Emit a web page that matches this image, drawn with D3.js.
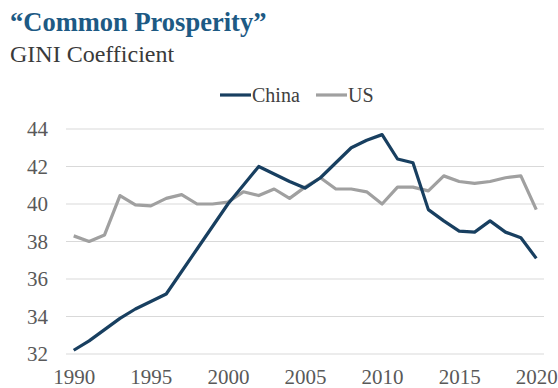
<!DOCTYPE html>
<html>
<head>
<meta charset="utf-8">
<script src="https://cdn.jsdelivr.net/npm/d3@7"></script>
<style>
  body { margin: 0; background: #fff; }
</style>
</head>
<body>
<svg id="plot" width="558" height="388"></svg>
<script>
const years = d3.range(1990, 2021);
const china = [32.2, 32.7, 33.3, 33.9, 34.4, 34.8, 35.2, 36.4, 37.6, 38.8, 40.0, 41.0, 42.0, 41.6, 41.2, 40.85,
               41.4, 42.2, 43.0, 43.4, 43.7, 42.4, 42.2, 39.7, 39.1, 38.55, 38.5, 39.1, 38.5, 38.2, 37.1];
const us = [38.3, 38.0, 38.35, 40.45, 39.95, 39.9, 40.3, 40.5, 40.0, 40.0, 40.1, 40.65, 40.45, 40.8, 40.3, 40.9,
            41.4, 40.8, 40.8, 40.65, 40.0, 40.9, 40.9, 40.7, 41.5, 41.2, 41.1, 41.2, 41.4, 41.5, 39.7];
const yTicks = [32, 34, 36, 38, 40, 42, 44];
const xTicks = [1990, 1995, 2000, 2005, 2010, 2015, 2020];

const serif = "'Liberation Serif', 'DejaVu Serif', serif";
const svg = d3.select("#plot");

const x = d3.scalePoint().domain(years).range([66, 544]).padding(0.5);
const y = d3.scaleLinear().domain([32, 44]).range([354, 129]);

// title
svg.append("text")
    .attr("x", 10).attr("y", 31)
    .style("font-family", serif)
    .attr("font-size", "26.5px").attr("font-weight", "bold")
    .attr("fill", "#1d5a84")
    .text("\u201cCommon Prosperity\u201d");
svg.append("text")
    .attr("x", 10).attr("y", 62)
    .style("font-family", serif)
    .attr("font-size", "24px")
    .attr("fill", "#3a3a3a")
    .text("GINI Coefficient");

// gridlines
svg.append("g").selectAll("line")
    .data(yTicks)
    .enter().append("line")
        .attr("x1", 66).attr("x2", 544)
        .attr("y1", d => y(d)).attr("y2", d => y(d))
        .attr("stroke", "#d9d9d9").attr("stroke-width", 1);

// axes
const yAxis = svg.append("g")
    .attr("transform", "translate(66,0)")
    .call(d3.axisLeft(y).tickValues(yTicks).tickSize(0).tickPadding(18));
yAxis.select(".domain").remove();
yAxis.selectAll("text")
    .style("font-family", serif)
    .attr("font-size", "21px").attr("fill", "#595959");

const xAxis = svg.append("g")
    .attr("transform", "translate(0,354)")
    .call(d3.axisBottom(x).tickValues(xTicks).tickSize(0).tickPadding(15));
xAxis.select(".domain").remove();
xAxis.selectAll("text")
    .style("font-family", serif)
    .attr("font-size", "21px").attr("fill", "#595959");

const line = d3.line()
    .x((d, i) => x(years[i]))
    .y(d => y(d));

svg.append("path")
    .datum(us)
    .attr("d", line)
    .attr("fill", "none").attr("stroke", "#a0a0a0")
    .attr("stroke-width", 3.2).attr("stroke-linejoin", "round");

svg.append("path")
    .datum(china)
    .attr("d", line)
    .attr("fill", "none").attr("stroke", "#183f60")
    .attr("stroke-width", 3.2).attr("stroke-linejoin", "round");

// legend
const legend = [{name: "China", color: "#183f60", x: 220}, {name: "US", color: "#a0a0a0", x: 316}];
legend.forEach(function(d) {
    svg.append("line")
        .attr("x1", d.x).attr("x2", d.x + 31)
        .attr("y1", 95).attr("y2", 95)
        .attr("stroke", d.color).attr("stroke-width", 3.2);
    svg.append("text")
        .attr("x", d.x + 32).attr("y", 102)
        .style("font-family", serif)
        .attr("font-size", "20px").attr("fill", "#404040")
        .text(d.name);
});
</script>
</body>
</html>
